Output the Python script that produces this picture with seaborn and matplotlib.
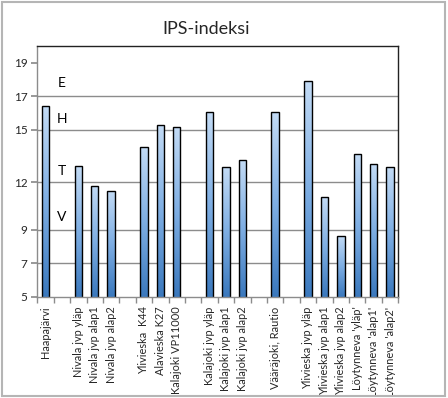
import numpy as np
import pandas as pd
import matplotlib
matplotlib.use("Agg")
import matplotlib.pyplot as plt
import seaborn as sns
from matplotlib.colors import LinearSegmentedColormap
from matplotlib.patches import Rectangle

# Data (blank slots separate the groups)
sites = ["Haapajärvi", " ",
         "Nivala jvp yläp", "Nivala jvp alap1", "Nivala jvp alap2", "  ",
         "Ylivieska  K44", "Alavieska K27", "Kalajoki VP11000", "   ",
         "Kalajoki jvp yläp", "Kalajoki jvp alap1", "Kalajoki jvp alap2", "    ",
         "Vääräjoki, Rautio", "     ",
         "Ylivieska jvp yläp", "Ylivieska jvp alap1", "Ylivieska jvp alap2",
         "Löytynneva 'yläp'", "Löytynneva 'alap1'", "Löytynneva 'alap2'"]
ips = [16.4, np.nan,
       12.8, 11.65, 11.35, np.nan,
       13.95, 15.3, 15.15, np.nan,
       16.05, 12.75, 13.15, np.nan,
       16.05, np.nan,
       17.9, 10.95, 8.65,
       13.55, 12.95, 12.75]

# quality classes written inside the chart
class_letters = ["E", "H", "T", "V"]
class_levels = [17.8, 15.65, 12.55, 9.75]

ytick_pos = [5, 7, 9, 11.85, 15, 17, 19]
ytick_labels = ["5", "7", "9", "12", "15", "17", "19"]

YMIN, YMAX = 5, 20

sns.set_theme(style="white")
plt.rcParams['font.family'] = ['Lato', 'DejaVu Sans']

df = pd.DataFrame({"site": sites, "ips": ips})

fig = plt.figure(figsize=(4.48, 3.98), dpi=100)
ax = fig.add_axes([0.0833, 0.2545, 0.8056, 0.6299])

sns.barplot(data=df, x="site", y="ips", order=sites, ax=ax, width=0.45,
            color="#5b95d6", edgecolor="black", linewidth=1.0, errorbar=None)

# vertical gradient inside each bar, kept inside the visible range
cmap = LinearSegmentedColormap.from_list("bar", ["#3a78bd", "#7eaee3", "#c3dbf5"])
grad = np.linspace(0, 1, 256).reshape(-1, 1)
for bar in list(ax.patches):
    x0, w, h = bar.get_x(), bar.get_width(), bar.get_height()
    if np.isnan(h) or h <= YMIN:
        continue
    bar.set_facecolor("none")
    im = ax.imshow(grad, extent=[x0, x0 + w, YMIN, h], origin="lower",
                   cmap=cmap, aspect="auto", zorder=bar.get_zorder() - 0.1,
                   interpolation="bilinear")
    im.set_clip_path(bar)
ax.set_xlim(-0.5, len(sites) - 0.5)
ax.set_ylim(YMIN, YMAX)

# gridlines (none at 19 in the original)
for yv in ytick_pos[1:-1]:
    ax.axhline(yv, color="#8c8c8c", lw=1.0, zorder=0)

ax.set_yticks(ytick_pos)
ax.set_yticklabels(ytick_labels, fontsize=8.5)
ax.set_xticks(range(len(sites)))
ax.set_xticklabels([s.strip() for s in sites], rotation=90, fontsize=7.9)
ax.tick_params(axis="x", length=0, pad=7)
ax.set_xticks(np.arange(-0.5, len(sites), 1), minor=True)
ax.tick_params(axis="x", which="minor", length=4, color="#8c8c8c", direction="out", bottom=True)
ax.tick_params(axis="y", length=4, color="#8c8c8c", direction="out", left=True, pad=3)
ax.set_xlabel("")
ax.set_ylabel("")

for s in ["top", "right"]:
    ax.spines[s].set_color("#222222")
    ax.spines[s].set_linewidth(1.0)
for s in ["left", "bottom"]:
    ax.spines[s].set_color("#8c8c8c")
    ax.spines[s].set_linewidth(1.0)

for letter, lv in zip(class_letters, class_levels):
    ax.text(1, lv, letter, ha="center", va="center", fontsize=10, color="black")

fig.text(0.46, 0.927, "IPS-indeksi", ha="center", va="center", fontsize=13)

# light grey chart-area border
fig.patches.append(Rectangle((0.004, 0.006), 0.99, 0.988, transform=fig.transFigure,
                             fill=False, edgecolor="#b5b5b5", lw=1.5))

fig.savefig("out.png", dpi=100)
